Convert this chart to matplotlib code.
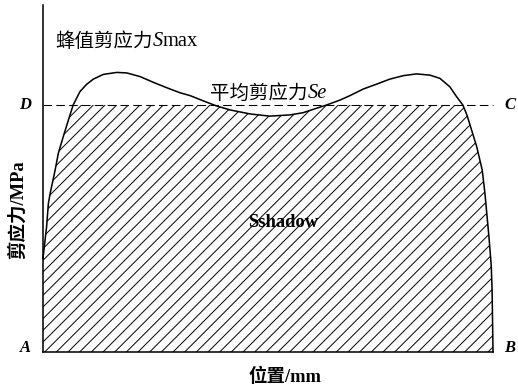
import matplotlib
matplotlib.use("Agg")
import matplotlib.pyplot as plt
from matplotlib.patches import Rectangle

# shear stress profile along the joint (position in mm, stress in MPa, Se = 100)
position = [0.0, 0.08, 0.12, 0.16, 0.27, 0.34, 0.45, 0.53, 0.67, 0.82, 0.97,
            1.12, 1.34, 1.64, 1.86, 2.16, 2.45, 2.75, 3.04, 3.27, 3.56, 3.86,
            4.16, 4.60, 5.04, 5.49, 5.78, 6.08, 6.30, 6.60, 6.82, 7.12, 7.42,
            7.71, 8.01, 8.30, 8.60, 8.82, 9.04, 9.19, 9.33, 9.42, 9.49, 9.64,
            9.76, 9.82, 9.91, 9.96, 9.98, 10.0]
shear = [38.0, 50.7, 60.2, 64.3, 73.7, 80.4, 87.2, 91.9, 100.0, 105.4, 108.4,
         110.5, 112.4, 113.2, 113.0, 111.5, 109.2, 107.0, 105.0, 103.8, 101.7, 99.6,
         98.0, 96.4, 95.5, 96.0, 96.9, 98.7, 100.0, 102.0, 103.8, 106.5, 108.5,
         110.5, 111.9, 112.6, 112.1, 110.8, 107.4, 103.4, 100.0, 96.0, 91.9, 83.0,
         73.7, 64.4, 46.6, 35.2, 25.1, 0.0]
se_level = 100.0
x_end = 10.0

corner_labels = ["D", "C", "A", "B"]

SERIF_CJK = ["Liberation Serif", "Noto Sans CJK SC"]
plt.rcParams["hatch.color"] = "black"
plt.rcParams["hatch.linewidth"] = 1.0

DPI = 70
fig = plt.figure(figsize=(518 / DPI, 390 / DPI), dpi=DPI)
ax = fig.add_axes([43 / 518, 38 / 390, 450 / 518, 347 / 390])
ax.set_xlim(0, x_end)
ax.set_ylim(0, 140.5)
for side in ("top", "right"):
    ax.spines[side].set_visible(False)
for side in ("left", "bottom"):
    ax.spines[side].set_linewidth(1.6)
ax.set_xticks([])
ax.set_yticks([])

# hatched area under the curve, capped at the mean stress level
hatch = ax.fill_between(position, 0, shear, facecolor="none", edgecolor="black",
                        hatch="//", linewidth=0)
hatch.set_clip_path(Rectangle((0, 0), x_end, se_level, transform=ax.transData))

ax.plot(position, shear, color="black", lw=1.6, clip_on=False,
        solid_joinstyle="round")
ax.plot([0, x_end], [se_level, se_level], color="black", lw=1.1,
        linestyle=(0, (8, 4)), clip_on=False)

corner_style = dict(fontsize=17, fontweight="bold", style="italic",
                    family="Liberation Serif", ha="center", va="center")
ax.text(-0.4, se_level, corner_labels[0], **corner_style)
ax.text(10.38, se_level, corner_labels[1], **corner_style)
ax.text(-0.4, 1.6, corner_labels[2], **corner_style)
ax.text(10.38, 1.6, corner_labels[3], **corner_style)


def chain_text(x, y, pieces):
    prev = None
    for s, style in pieces:
        if prev is None:
            prev = ax.text(x, y, s, ha="left", va="bottom", **style)
        else:
            prev = ax.annotate(s, xy=(1, 0), xycoords=prev, ha="left",
                               va="bottom", **style)
    return prev


cjk = dict(fontsize=20, family=SERIF_CJK)
ital = dict(fontsize=21, family="Liberation Serif", style="italic")
rom = dict(fontsize=21, family="Liberation Serif")

chain_text(0.27, 122.0, [("蜂值剪应力", cjk), ("S", ital), ("max", rom)])
chain_text(3.71, 101.0, [("平均剪应力", cjk), ("Se", ital)])

ax.text(5.33, 52.6, "Sshadow", fontsize=19, fontweight="bold",
        family="Liberation Serif", ha="center", va="center")

ax.text(5.38, -10.1, "位置/mm", fontsize=19, fontweight="bold",
        family=SERIF_CJK, ha="center", va="center")
ax.text(-0.56, 57.5, "剪应力/MPa", fontsize=19, fontweight="bold",
        family=SERIF_CJK, ha="center", va="center", rotation=90)

fig.savefig("out.png", dpi=DPI)
